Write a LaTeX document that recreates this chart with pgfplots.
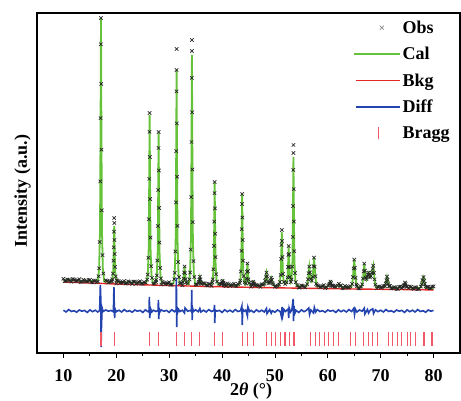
\documentclass[border=0pt]{standalone}
\usepackage{fontspec}
\setmainfont{Liberation Serif}
\usepackage{pgfplots}
\pgfplotsset{compat=1.18}
\definecolor{calgreen}{RGB}{102,194,58}
\definecolor{bkgred}{RGB}{228,38,38}
\definecolor{diffblue}{RGB}{35,68,175}
\definecolor{braggred}{RGB}{240,90,104}

\begin{document}
\begin{tikzpicture}
\begin{axis}[
  name=main,
  width=423pt, height=340pt, scale only axis,
  xmin=5, xmax=85, ymin=0, ymax=340,
  xtick={10,20,...,80}, minor x tick num=1,
  ytick=\empty,
  xtick pos=left, tick align=outside,
  major tick length=5pt, minor tick length=3pt,
  every tick/.style={black, line width=0.8pt},
  axis line style={black, line width=1.2pt},
  /pgf/number format/assume math mode=true,
  xticklabel style={font=\bfseries\fontsize{18}{20}\selectfont, yshift=-8pt},
  xlabel={\textbf{2\textit{θ} (°)}},
  ylabel={\textbf{Intensity (a.u.)}},
  label style={font=\fontsize{18}{20}\selectfont},
  xlabel style={at={(axis description cs:0.506,-0.113)}, anchor=center},
  ylabel style={at={(axis description cs:-0.034,0.476)}, anchor=center},
  legend style={draw=none, fill=none, at={(0.988,0.99)}, anchor=north east,
    font=\bfseries\fontsize{18}{20}\selectfont, row sep=8.5pt},
  legend cell align=left,
]

% calculated profile (drawn first, below the observed points)
\addplot[calgreen, line width=1.8pt, forget plot] coordinates {
(10,73) (12,72.6) (14,72.2) (16,71.8)
(16.5,71.6) (16.75,84.7) (16.92,124.2) (17.02,229.6) (17.1,335) (17.18,229.6) (17.28,124.2) (17.45,84.7) (17.7,71.4)
(18.5,71.3)
(19.0,71.2) (19.25,73.8) (19.42,82.2) (19.52,104.6) (19.6,127) (19.68,104.6) (19.78,82.2) (19.95,73.8) (20.2,71)
(22,70.7) (24,70.4)
(25.7,70.2) (25.95,78.4) (26.12,103.6) (26.22,170.8) (26.3,238) (26.38,170.8) (26.48,103.6) (26.65,78.4) (26.9,70)
(27.4,69.9) (27.65,77.5) (27.82,100) (27.92,160) (28.0,220) (28.08,160) (28.18,100) (28.35,77.5) (28.6,69.8)
(30,69.5)
(30.8,69.45) (31.05,80.2) (31.22,112.2) (31.32,197.6) (31.4,283) (31.48,197.6) (31.58,112.2) (31.75,80.2) (32.0,69.3)
(32.45,69.2) (32.6,70.7) (32.7,74.1) (32.8,80.1) (32.9,86) (33.0,80.1) (33.1,74.1) (33.2,70.7) (33.35,69.1)
(33.7,69) (33.95,80.5) (34.12,114.8) (34.22,206.4) (34.3,298) (34.38,206.4) (34.48,114.8) (34.65,80.5) (34.9,68.9)
(35.35,68.8) (35.5,69.6) (35.6,71.1) (35.7,73.6) (35.8,76) (35.9,73.6) (36.0,71.1) (36.1,69.6) (36.25,68.75)
(37,68.6)
(38.0,68.5) (38.25,73.6) (38.42,88.8) (38.52,129.4) (38.6,170) (38.68,129.4) (38.78,88.8) (38.95,73.6) (39.2,68.4)
(39.65,68.3) (39.8,68.7) (39.9,69.5) (40.0,70.8) (40.1,72) (40.2,70.8) (40.3,69.5) (40.4,68.7) (40.55,68.15)
(42,67.9)
(43.2,67.8) (43.45,72.5) (43.62,86) (43.72,122) (43.8,158) (43.88,122) (43.98,86) (44.15,72.5)
(44.4,68.5) (44.5,69.7) (44.6,74) (44.7,81.5) (44.8,89) (44.9,81.5) (45.0,74) (45.1,69.7) (45.25,67.7)
(45.45,67.65) (45.6,68) (45.7,68.7) (45.8,69.9) (45.9,71) (46.0,69.9) (46.1,68.7) (46.2,68) (46.35,67.6)
(47,67.5)
(47.85,67.45) (48.0,68.7) (48.15,71.8) (48.28,76.2) (48.4,80) (48.52,76.2) (48.65,71.8) (48.8,69.5)
(49.05,70.1) (49.18,72.8) (49.3,75) (49.42,72.8) (49.55,70.1) (49.7,68.3) (49.85,67.3)
(50.7,67.1) (50.9,69.8) (51.08,77.9) (51.2,99.4) (51.3,121) (51.4,99.4) (51.52,77.9) (51.7,70.5) (51.95,68.8)
(52.2,70) (52.38,75) (52.5,90.4) (52.6,106) (52.7,90.4) (52.82,75) (52.98,71)
(53.15,73.5) (53.32,92.8) (53.42,144.4) (53.5,196) (53.58,144.4) (53.68,92.8) (53.85,73.5) (54.1,66.95)
(55,66.8)
(55.95,66.7) (56.1,68.5) (56.25,73.3) (56.38,80.2) (56.5,86) (56.62,80.2) (56.75,74.5) (56.95,72)
(57.15,76.5) (57.28,86.5) (57.4,95) (57.52,86.5) (57.65,76.5) (57.8,69.4) (57.95,66.55)
(59,66.45)
(59.95,66.4) (60.1,66.9) (60.25,68) (60.38,69.6) (60.5,71) (60.62,69.6) (60.75,68) (60.9,66.9) (61.05,66.35)
(61.6,66.3) (61.85,67.2) (62.1,69) (62.35,67.2) (62.6,66.2)
(63.5,66.1)
(64.45,66) (64.6,68.7) (64.75,75.5) (64.88,84.9) (65.0,93) (65.12,84.9) (65.25,75.5) (65.4,68.7) (65.55,65.95)
(66.35,65.9) (66.5,68.2) (66.65,74) (66.78,82) (66.9,89) (67.02,82) (67.15,76) (67.3,73.5) (67.45,76) (67.58,78.5)
(67.7,80) (67.85,78) (68.0,76) (68.15,76.5) (68.35,80.5) (68.48,83.7) (68.6,87) (68.72,80.5) (68.85,73.2) (69.0,67.9) (69.15,65.8)
(70,65.7)
(70.65,65.65) (70.8,66.6) (70.95,69.2) (71.08,72.9) (71.2,76) (71.32,72.9) (71.45,69.2) (71.6,66.6) (71.75,65.6)
(73,65.5)
(74.05,65.4) (74.2,65.9) (74.35,67) (74.48,68.6) (74.6,70) (74.72,68.6) (74.85,67) (75.0,65.9) (75.15,65.35)
(76.5,65.25)
(77.45,65.2) (77.6,66.2) (77.75,68.8) (77.88,72.4) (78.1,75.5) (78.22,72.4) (78.35,68.8) (78.5,66.2) (78.65,65.15)
(80,65.1)
};

% observed intensities
\addplot[only marks, mark=x, mark size=2.4pt, black!85, mark options={line width=0.7pt},
  legend image code/.code={\path[draw=none, fill=none] (0pt,-4pt) rectangle (46pt,4pt);
    \draw[black!55, line width=0.5pt] (26pt,-2pt) -- (30pt,2pt) (26pt,2pt) -- (30pt,-2pt);}]
coordinates {
(10,74.2) (10.5,72.1) (11,73.2) (11.5,71.3) (12,73.5) (12.5,72.2) (13,73.9) (13.5,71.3) (14,72.4) (14.5,71.5)
(15,73.1) (15.5,70.6) (16,72.4) (16.5,71.5)
(10.25,71.85) (10.75,73.55) (11.25,72.45) (11.75,74.05) (12.25,71.75) (12.75,72.65) (13.25,70.95) (13.75,73.25)
(14.25,71.65) (14.75,72.95) (15.25,70.75) (15.75,72.35) (16.25,70.65)
(16.65,76.8) (16.75,84.7) (16.86,111.0) (16.97,171.6) (17.02,234.9) (17.08,308.7) (17.1,335) (17.15,269.1) (17.2,203.3) (17.26,142.6) (17.39,97.9) (17.55,79.4)
(18,72.7) (18.5,70.4) (19,71.5) (18.25,72.15) (18.75,71.05)
(19.15,72.1) (19.25,73.8) (19.36,79.4) (19.47,92.3) (19.52,105.7) (19.58,121.4) (19.6,135) (19.62,130) (19.65,113) (19.7,99) (19.76,86.1) (19.89,76.6) (20.05,72.7)
(20,69.5) (20.5,71.7) (21,70.45) (21.5,72.0) (22,69.9) (22.5,71.0) (23,69.15) (23.5,71.4) (24,70.1) (24.5,71.8) (25,69.25) (25.5,70.4)
(20.25,72.35) (20.75,70.1) (21.25,71.0) (21.75,69.35) (22.25,71.65) (22.75,70.1) (23.25,71.4) (23.75,69.25)
(24.25,70.85) (24.75,69.2) (25.25,70.9)
(25.85,73.4) (25.95,78.4) (26.06,95.2) (26.17,133.8) (26.22,174.2) (26.28,221.2) (26.3,240) (26.35,196) (26.4,154) (26.46,115.4) (26.59,86.8) (26.75,75)
(27,69.35) (27.5,71.0) (27.25,69.6)
(27.55,73) (27.65,77.5) (27.76,92.5) (27.87,127) (27.92,163) (27.98,205) (28.0,221) (28.05,182.5) (28.1,145) (28.16,110.5) (28.29,85) (28.45,74.5)
(28.5,68.5) (29,70.3) (29.5,69.4) (30,70.8) (30.5,68.55)
(28.75,71.15) (29.25,68.85) (29.75,69.75) (30.25,68.1)
(30.95,73.8) (31.05,80.2) (31.16,101.5) (31.27,150.6) (31.32,201.9) (31.38,261.7) (31.4,283) (31.41,304) (31.45,229.6) (31.5,176.3) (31.56,127.1) (31.69,90.9) (31.85,75.9)
(32,69.55) (32.5,67.7) (32.25,70.2)
(32.6,71) (32.7,74.4) (32.8,80.5) (32.9,86.5) (33.0,79.8) (33.1,73.8) (33.2,70.5)
(33.5,69.8)
(33.85,73.6) (33.95,80.5) (34.06,103.4) (34.17,156) (34.22,211) (34.28,275.1) (34.3,302) (34.31,313) (34.35,240.8) (34.4,183.5) (34.46,130.8) (34.59,91.9) (34.75,75.9)
(35,68.45) (35.25,68.3)
(35.5,69.6) (35.6,71) (35.7,73.2) (35.8,76.3) (35.9,73.6) (36.0,70.5) (36.1,69)
(36.5,69.9) (37,67.8) (37.5,68.95) (38,67.1) (36.75,69.55) (37.25,67.4) (37.75,69.0)
(38.15,70.5) (38.25,73.6) (38.36,83.7) (38.47,107.1) (38.52,131.4) (38.58,159.9) (38.6,171) (38.65,144.6) (38.7,119.3) (38.76,95.9) (38.89,78.7) (39.05,71.5)
(39.5,69.2)
(39.8,68.8) (39.9,69) (40.0,70.9) (40.1,72.2) (40.2,70.3) (40.3,69.4) (40.4,68)
(40.5,67.85) (41,69.6) (41.5,67.0) (42,68.1) (42.5,67.25) (43,68.9)
(40.75,67.0) (41.25,68.75) (41.75,67.65) (42.25,69.3) (42.75,67.0)
(43.35,69.8) (43.45,72.5) (43.56,81.5) (43.67,102.2) (43.72,123.8) (43.78,149) (43.8,159) (43.85,135.5) (43.9,113) (43.96,92.3) (44.09,77) (44.25,70.7)
(44.5,69.4) (44.6,74.3) (44.7,81.1) (44.8,89.5) (44.9,81.9) (45.0,73.6) (45.1,70)
(45.5,66.35)
(45.6,68.4) (45.7,68.2) (45.8,70.1) (45.9,71.3) (46.0,69.5) (46.1,68.9) (46.2,67.4)
(46.5,68.15) (47,67.3) (47.5,68.75) (46.75,67.7) (47.25,66.1) (47.75,68.4)
(48.0,69.2) (48.15,72.3) (48.28,75.9) (48.4,80.4) (48.52,76.8) (48.65,71.5)
(48.8,69.9) (49.05,70.4) (49.18,72.5) (49.3,75.3) (49.42,73.1) (49.55,69.8) (49.7,68.6)
(50,66.3) (50.5,67.45) (50.25,66.7)
(50.8,68.5) (50.95,71) (51.08,78) (51.18,94) (51.24,108) (51.3,123) (51.35,112) (51.42,96) (51.52,79) (51.7,71)
(51.95,69) (52.2,70.5) (52.38,75.5) (52.48,86) (52.55,98) (52.6,107) (52.66,99) (52.73,86) (52.82,76) (53.0,71)
(53.15,73.5) (53.26,86.4) (53.37,116) (53.42,147) (53.48,183.1) (53.5,200) (53.51,208) (53.55,163.8) (53.6,131.5) (53.66,101.8) (53.79,79.9) (53.95,70.9)
(54.5,65.35) (55,67.6) (55.5,66.35) (54.25,67.8) (54.75,65.6) (55.25,67.3) (55.75,65.6)
(56.1,68.9) (56.25,73.6) (56.38,79.8) (56.5,86.4) (56.62,80.6) (56.75,74.1) (56.95,72.4)
(57.15,76.1) (57.28,86.9) (57.4,95.4) (57.52,86.2) (57.65,76.8) (57.8,69.1)
(58,67.75) (58.5,65.7) (59,66.85) (59.5,65.0) (58.25,67.2) (58.75,66.2) (59.25,67.85) (59.75,65.6)
(60.1,67.3) (60.25,68.4) (60.38,69.2) (60.5,71.4) (60.62,69.9) (60.75,67.6) (60.9,67.1)
(61,67.25) (61.5,66.0) (61.25,66.5)
(61.85,67.5) (62.1,69.3) (62.35,66.9)
(62.5,67.7) (63,65.15) (63.5,66.3) (64,65.45) (62.75,64.8) (63.25,67.1) (63.75,65.6) (64.25,66.9)
(64.6,69.1) (64.75,75.9) (64.88,84.4) (65.0,93.4) (65.12,85.3) (65.25,75.1) (65.4,68.4)
(65.5,67.05) (66,64.6) (65.75,64.7) (66.25,66.4)
(66.5,68.6) (66.65,74.4) (66.78,81.6) (66.9,89.4) (67.02,82.4) (67.15,75.6) (67.3,73.9) (67.45,76.4) (67.58,78.1)
(67.7,80.4) (67.85,78.4) (68.0,75.6) (68.15,76.9) (68.35,80.1) (68.48,84.1) (68.6,87.4) (68.72,80.1) (68.85,73.6) (69.0,68.3)
(69.5,66.35) (70,65.5) (70.5,66.95) (69.25,64.7) (69.75,66.45) (70.25,65.4)
(70.8,66.9) (70.95,69.5) (71.08,72.6) (71.2,76.4) (71.32,73.3) (71.45,68.9) (71.6,66.9)
(72,64.65) (72.5,65.8) (73,64.0) (73.5,66.25) (74,65.0)
(71.75,66.98) (72.25,64.7) (72.75,65.7) (73.25,64.1) (73.75,66.4)
(74.2,66.3) (74.35,67.3) (74.48,68.3) (74.6,70.4) (74.72,68.9) (74.85,66.7) (75.0,66.2)
(75.5,66.55) (76,64.5) (76.5,65.65) (77,63.8) (75.25,64.9) (75.75,66.2) (76.25,64.1) (76.75,65.7) (77.25,64.1)
(77.6,66.5) (77.75,68.6) (77.88,72.8) (78.1,75.9) (78.22,72.1) (78.35,69.1) (78.5,66.4)
(79,66.05) (79.5,64.8) (80,66.6) (78.75,65.9) (79.25,64.8) (79.75,66.5)
};
\addlegendentry{Obs}

\addlegendimage{legend image code/.code={\path[draw=none, fill=none] (0pt,-4pt) rectangle (46pt,4pt);
    \draw[calgreen, line width=1.8pt] (0pt,0pt) -- (46pt,0pt);}}
\addlegendentry{Cal}

% background
\addplot[bkgred, line width=1.4pt,
  legend image code/.code={\path[draw=none, fill=none] (0pt,-4pt) rectangle (46pt,4pt);
    \draw[bkgred, line width=1.4pt] (2pt,0pt) -- (46pt,0pt);}]
coordinates {
(10,71) (15,70) (20,69) (25,68.2) (30,67.5) (35,66.8) (40,66.2) (45,65.7) (50,65.2)
(55,64.8) (60,64.4) (65,64) (70,63.7) (75,63.4) (80,63.1)
};
\addlegendentry{Bkg}

% difference curve
\addplot[diffblue, line width=1.6pt,
  legend image code/.code={\path[draw=none, fill=none] (0pt,-4pt) rectangle (46pt,4pt);
    \draw[diffblue, line width=1.4pt] (2pt,0pt) -- (46pt,0pt);}]
coordinates {
(10,42.8) (10.5,41.0) (11,43.4) (11.5,41.5) (12,42.3) (12.5,40.8) (13,43.0) (13.5,41.8) (14,42.6) (14.5,40.6)
(15,43.2) (15.5,41.3) (16,42.8) (16.5,41.0) (16.85,42.5) (16.98,68) (17.06,55) (17.12,6) (17.2,28) (17.32,45)
(17.5,41.5) (18,43.0) (18.5,41.8) (19,42.6) (19.45,41.2) (19.55,66) (19.62,46) (19.68,35) (19.78,44) (20,41.3)
(20.5,42.8) (21,41.0) (21.5,43.4) (22,41.5) (22.5,42.3) (23,40.8) (23.5,43.0) (24,41.8) (24.5,42.6) (25,40.6)
(25.5,43.2) (26.0,41.3) (26.2,42.5) (26.25,56) (26.32,35) (26.4,40) (26.5,44) (26.7,41.0) (27.0,42.8) (27.5,41.5)
(27.9,42.5) (27.96,53) (28.03,34) (28.12,44) (28.3,41.5) (28.5,43.0) (29,41.8) (29.5,42.6) (30,40.6) (30.5,43.2)
(31.0,41.3) (31.3,43) (31.36,75) (31.42,26) (31.5,46) (31.6,40.5) (31.8,43.5) (32.0,41.5) (32.5,42.8) (32.9,40)
(33.0,45) (33.5,41.8) (34.0,42.6) (34.2,41.5) (34.27,63) (34.34,33) (34.42,45) (34.6,41.5) (35.0,43.2) (35.5,41.3)
(35.8,44.5) (36.0,41) (36.5,42.8) (37,41.0) (37.5,43.4) (38,41.5) (38.5,42.8) (38.56,48) (38.62,30) (38.7,43)
(39.0,41.8) (39.5,42.6) (40,40.6) (40.5,43.2) (41,41.3) (41.5,42.8) (42,41.0) (42.5,43.4) (43,41.5) (43.5,42.3)
(43.75,47) (43.82,28) (43.9,44) (44.2,41.8) (44.5,43.0) (44.8,37) (44.9,46) (45.2,41.5) (45.5,42.6) (46,40.6)
(46.5,43.2) (47,41.3) (47.5,42.8) (48,41.0) (48.4,44.5) (48.5,39.5) (49,43.4) (49.3,39.8) (49.5,42.3) (50,40.8)
(50.5,43.0) (51.0,41.5) (51.25,36) (51.35,46) (51.5,38) (51.7,43.5) (52.0,41.5) (52.5,44) (52.6,35) (52.7,45)
(52.95,41) (53.2,43) (53.45,54) (53.52,32) (53.6,47) (53.8,40) (54.0,42.6) (54.5,40.6) (55,43.2) (55.5,41.3)
(56.0,42.8) (56.4,45) (56.55,38.5) (56.8,43) (57.3,40) (57.45,45.5) (57.7,41) (58,43.4) (58.5,41.5) (59,42.3)
(59.5,40.8) (60,43.0) (60.5,41.8) (61,42.6) (61.5,40.6) (62,43.2) (62.5,41.3) (63,42.8) (63.5,41.0) (64,43.4)
(64.5,41.5) (64.9,44.5) (65.05,38.5) (65.2,44) (65.5,41.0) (66,43.0) (66.5,41.8) (66.9,44.8) (67.0,39) (67.5,43.5)
(67.7,40) (68.0,42.6) (68.5,44.2) (68.65,39.5) (69.0,43.2) (69.5,41.3) (70,42.8) (70.5,41.0) (71,43.4) (71.5,41.5)
(72,42.3) (72.5,40.8) (73,43.0) (73.5,41.8) (74,42.6) (74.5,40.6) (75,43.2) (75.5,41.3) (76,42.8) (76.5,41.0)
(77,43.4) (77.5,41.5) (78,42.3) (78.5,40.8) (79,43.0) (79.5,41.8) (80,42.6)
};
\addlegendentry{Diff}

% Bragg reflection positions
\addplot[only marks, mark=|, mark size=7pt, braggred, mark options={line width=1.1pt},
  legend image code/.code={\path[draw=none, fill=none] (0pt,-4pt) rectangle (46pt,4pt);
    \draw[braggred, line width=1pt] (25pt,-6pt) -- (25pt,6pt);}]
coordinates {
(17.1,14) (19.6,14) (26.3,14) (28.0,14) (31.4,14) (32.9,14) (34.3,14) (35.8,14) (38.6,14) (40.1,14)
(43.8,14) (44.8,14) (45.9,14) (48.4,14) (49.3,14) (50.1,14) (51.0,14) (51.9,14) (52.7,14) (53.6,14)
(56.7,14) (57.7,14) (58.5,14) (59.4,14) (60.2,14) (61.1,14) (62.1,14) (64.3,14) (65.2,14) (66.8,14)
(67.7,14) (68.5,14) (69.4,14) (71.4,14) (72.2,14) (73.1,14) (74.0,14) (75.0,14) (75.7,14) (76.5,14)
(78.2,14) (79.7,14)
};
\addlegendentry{Bragg}

\end{axis}
\pgfresetboundingbox
\path[use as bounding box] ([shift={(-37pt,-48pt)}]main.south west) rectangle ([shift={(1pt,13pt)}]main.north east);
\end{tikzpicture}
\end{document}
